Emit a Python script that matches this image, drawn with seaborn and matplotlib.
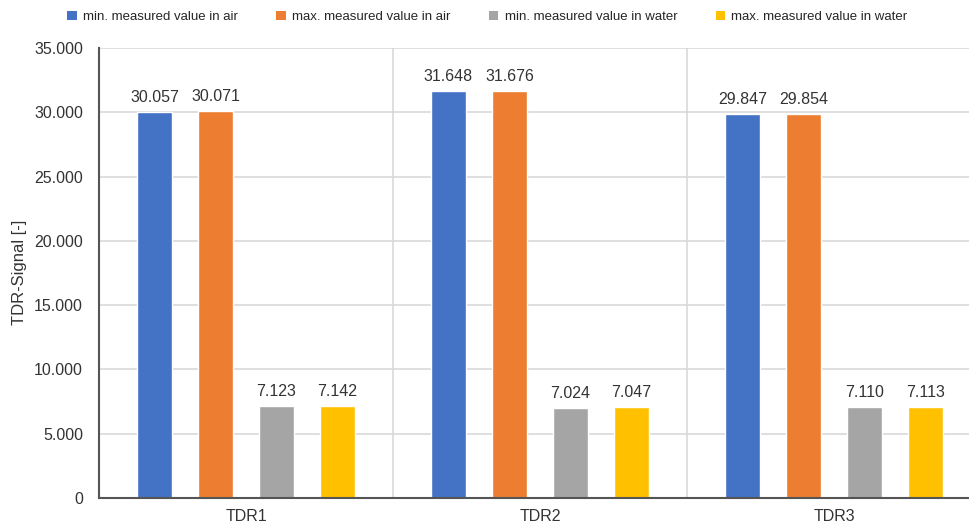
import matplotlib
matplotlib.use("Agg")
import matplotlib.pyplot as plt
import seaborn as sns
import pandas as pd
from matplotlib.patches import Patch

categories = ["TDR1", "TDR2", "TDR3"]
series = ["min. measured value in air", "max. measured value in air",
          "min. measured value in water", "max. measured value in water"]
min_air = [30057, 31648, 29847]
max_air = [30071, 31676, 29854]
min_water = [7123, 7024, 7110]
max_water = [7142, 7047, 7113]
colors = ["#4472C4", "#ED7D31", "#A5A5A5", "#FFC000"]
yticks = [0, 5000, 10000, 15000, 20000, 25000, 30000, 35000]

rows = []
for s, vals in zip(series, [min_air, max_air, min_water, max_water]):
    for c, v in zip(categories, vals):
        rows.append({"cat": c, "series": s, "value": v})
df = pd.DataFrame(rows)

sns.set_theme(style="white")
plt.rcParams["font.family"] = ["Liberation Sans", "DejaVu Sans"]

def fmt(v):
    return f"{int(round(v)):,}".replace(",", ".")

fig = plt.figure(figsize=(9.69, 5.29), dpi=100)
ax = fig.add_axes([99 / 969, 1 - 498 / 529, 882 / 969, 450 / 529])
sns.barplot(data=df, x="cat", y="value", hue="series", hue_order=series,
            order=categories, palette=colors, width=0.83, gap=0.44,
            ax=ax, legend=False, saturation=1)

ax.set_xlim(-0.5, 2.5)
ax.set_ylim(0, 35000)
ax.set_yticks(yticks)
ax.set_yticklabels([fmt(t) for t in yticks], fontsize=11.5, color="#333333")
ax.tick_params(axis="x", labelsize=11.5, colors="#333333", length=0, pad=8)
ax.tick_params(axis="y", length=0, pad=11.5)
ax.set_xlabel("")
ax.set_ylabel("TDR-Signal [-]", fontsize=12, color="#333333")
ax.yaxis.set_label_coords(-0.0816, 0.502)

ax.grid(False)
for t in yticks[1:]:
    ax.axhline(t, color="#D9D9D9", lw=1.2, zorder=0)
for xb in [0.5, 1.5]:
    ax.axvline(xb, color="#D9D9D9", lw=1.2, zorder=0)

for sp in ["top", "right"]:
    ax.spines[sp].set_visible(False)
ax.spines["left"].set_color("#555555")
ax.spines["left"].set_linewidth(1.5)
ax.spines["bottom"].set_color("#555555")
ax.spines["bottom"].set_linewidth(1.5)

for cont in ax.containers:
    ax.bar_label(cont, labels=[fmt(b.get_height()) for b in cont],
                 padding=5, fontsize=11.5, color="#333333")

handles = [Patch(facecolor=c, edgecolor="none") for c in colors]
fig.legend(handles, series, loc="center", bbox_to_anchor=(0.503, 0.968),
           ncol=4, frameon=False, fontsize=9.5, handlelength=0.7,
           handleheight=0.7, handletextpad=0.5, columnspacing=2.9)

fig.savefig("out.png", dpi=100)
